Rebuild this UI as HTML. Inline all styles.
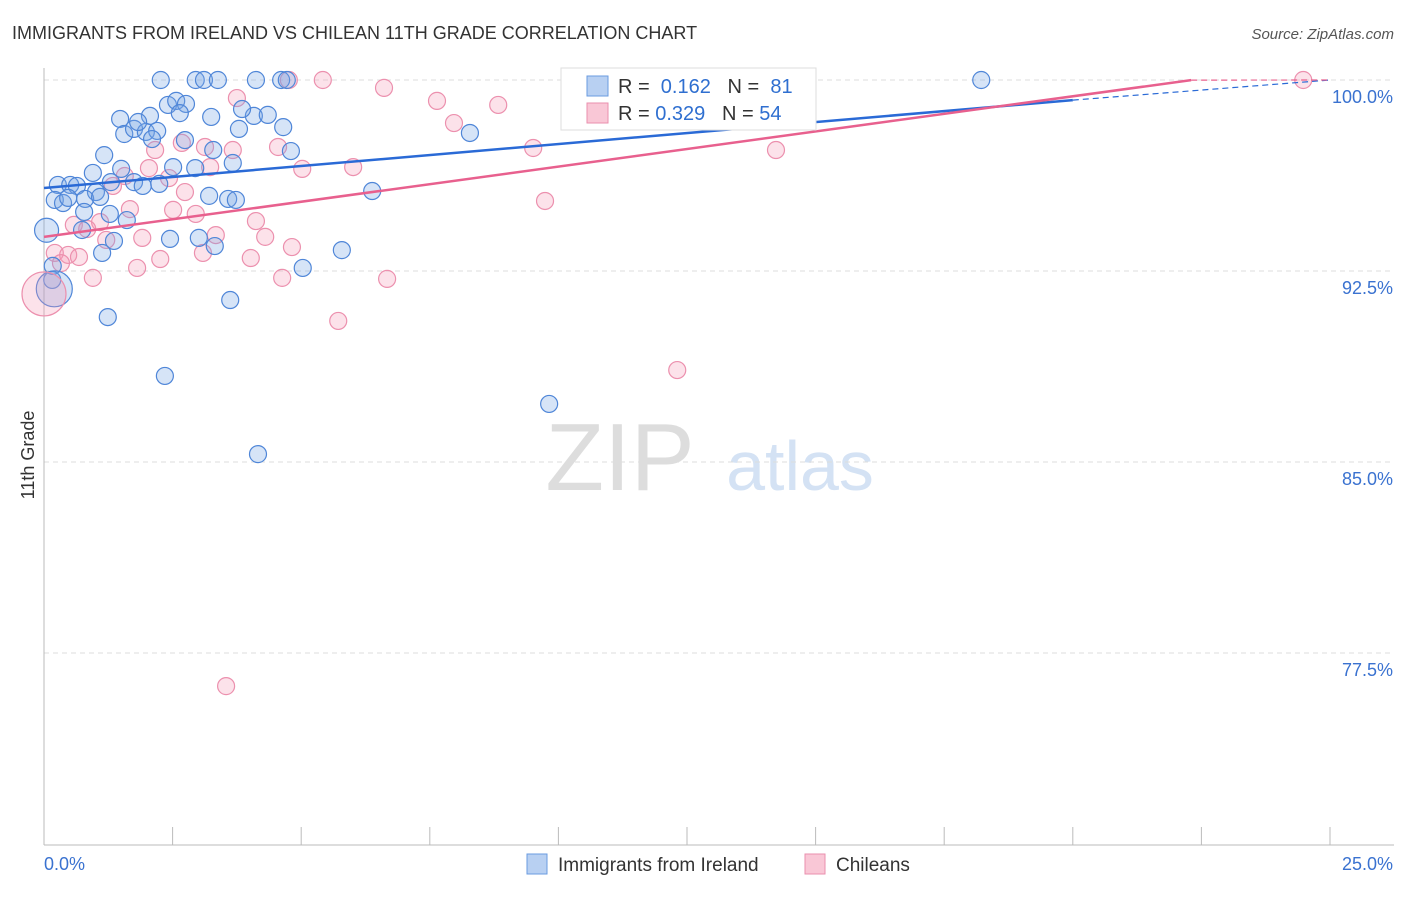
<!DOCTYPE html>
<html><head><meta charset="utf-8"><style>
body{margin:0;background:#fff;font-family:"Liberation Sans",sans-serif}
svg text{font-family:"Liberation Sans",sans-serif}
</style></head><body>
<svg id="c" width="1406" height="892" xmlns="http://www.w3.org/2000/svg">
<text x="12" y="39" font-size="18" fill="#333">IMMIGRANTS FROM IRELAND VS CHILEAN 11TH GRADE CORRELATION CHART</text>
<text x="1394" y="39" font-size="15" fill="#555" font-style="italic" text-anchor="end">Source: ZipAtlas.com</text>
<text x="34" y="455" font-size="18" fill="#333" transform="rotate(-90 34 455)" text-anchor="middle">11th Grade</text>
<text x="620" y="490" font-size="96" fill="#ddd" font-family="Liberation Serif" text-anchor="middle">ZIP</text>
<text x="800" y="490" font-size="70" fill="#d4e2f4" text-anchor="middle">atlas</text>
<g id="grid"></g><g id="pts"></g><g id="lines"></g>
<g>
<rect x="561" y="68" width="255" height="62" fill="#fff" stroke="#ddd"/>
<rect x="587" y="76" width="21" height="20" fill="#b8d0f2" stroke="#6a9be0"/>
<rect x="587" y="103" width="21" height="20" fill="#f9c7d6" stroke="#ea8fae"/>
<text x="618" y="93" font-size="20" fill="#333">R = <tspan fill="#2f6fd0">&#160;0.162</tspan>&#160;&#160;&#160;N = <tspan fill="#2f6fd0">&#160;81</tspan></text>
<text x="618" y="120" font-size="20" fill="#333">R = <tspan fill="#2f6fd0">0.329</tspan>&#160;&#160;&#160;N = <tspan fill="#2f6fd0">54</tspan></text>
</g>
<g>
<rect x="527" y="854" width="20" height="20" fill="#b8d0f2" stroke="#6a9be0"/>
<text x="558" y="871" font-size="19" fill="#333">Immigrants from Ireland</text>
<rect x="805" y="854" width="20" height="20" fill="#f9c7d6" stroke="#ea8fae"/>
<text x="836" y="871" font-size="19" fill="#333">Chileans</text>
</g>
</svg>
<script>
const yTicks=[100,92.5,85,77.5];
const yTickLabels=["100.0%","92.5%","85.0%","77.5%"];
const xEnds=["0.0%","25.0%"];
const bluePx=[[161,80],[196,80],[204,80],[218,80],[256,80],[281,80],[287,80],[981,80],[120,119],[150,116],[168,105],[176,101],[186,104],[211,117],[254,116],[268,115],[283,127],[124,134],[134,129],[146,132],[157,131],[138,122],[152,139],[180,113],[185,140],[239,129],[242,109],[470,133],[104,155],[121,169],[173,167],[195,168],[213,150],[233,163],[291,151],[93,173],[58,185],[70,185],[77,186],[96,192],[111,182],[134,182],[143,186],[159,184],[372,191],[55,200],[63,203],[68,198],[85,199],[100,197],[209,196],[228,199],[236,200],[84,212],[110,214],[127,220],[82,230],[114,241],[170,239],[199,238],[215,246],[102,253],[342,250],[53,266],[303,268],[230,300],[108,317],[165,376],[549,404],[258,454],[52,280]];
const pinkPx=[[323,80],[289,80],[1303,80],[720,80],[384,88],[237,98],[437,101],[498,105],[454,123],[182,143],[205,147],[233,150],[278,147],[533,148],[776,150],[155,150],[149,168],[210,167],[302,169],[353,167],[125,176],[113,186],[169,178],[185,192],[130,209],[173,210],[196,214],[256,221],[545,201],[100,222],[74,225],[87,229],[142,238],[106,240],[216,235],[265,237],[292,247],[203,253],[55,253],[68,255],[79,257],[160,259],[251,258],[61,263],[137,268],[93,278],[282,278],[387,279],[338,321],[677,370],[226,686]];
// convert estimated positions to data values (x %, y %)
const blueX=bluePx.map(p=>+((p[0]-44)/1286*25).toFixed(2)), blueY=bluePx.map(p=>+(100-(p[1]-80)/191*7.5).toFixed(2));
const pinkX=pinkPx.map(p=>+((p[0]-44)/1286*25).toFixed(2)), pinkY=pinkPx.map(p=>+(100-(p[1]-80)/191*7.5).toFixed(2));
const bigX=[0.05,0.2,0],bigY=[94.1,91.8,91.6],bigSer=["b","b","p"],bigR=[12,18,22];
const blueTrend=[95.76,0.1725], pinkTrend=[93.84,0.276];
const sx=v=>44+v/25*1286, sy=v=>80+(100-v)/7.5*191;
const NS="http://www.w3.org/2000/svg";
function mk(t,a,p){const e=document.createElementNS(NS,t);for(const k in a)e.setAttribute(k,a[k]);p.appendChild(e);return e;}
const g=document.getElementById('grid');
yTicks.forEach((v,i)=>{
 const l=mk('line',{x1:44,x2:1394,y1:sy(v),y2:sy(v),stroke:'#ddd','stroke-dasharray':'5,4'},g);
 
 
 const t=mk('text',{x:1393,y:sy(v)+23,'font-size':18,fill:'#3a72d0','text-anchor':'end'},g);t.textContent=yTickLabels[i];
 
 
});
mk('line',{x1:44,x2:44,y1:68,y2:845,stroke:'#bbb'},g);
mk('line',{x1:44,x2:1394,y1:845,y2:845,stroke:'#bbb'},g);
for(let i=1;i<=10;i++){const x=sx(i*2.5);const l=mk('line',{x1:x,x2:x,y1:827,y2:845,stroke:'#bbb'},g);
 
 }
const t0=mk('text',{x:44,y:870,'font-size':18,fill:'#3a72d0'},g);t0.textContent=xEnds[0];


const t1=mk('text',{x:1393,y:870,'font-size':18,fill:'#3a72d0','text-anchor':'end'},g);t1.textContent=xEnds[1];


const P=document.getElementById('pts');
function dot(x,y,r,s){const c=mk('circle',{cx:sx(x),cy:sy(y),r:r,fill:s=='b'?'rgba(120,165,230,0.3)':'rgba(245,150,180,0.28)',stroke:s=='b'?'#4f86d8':'#ec90ae','stroke-width':1.2},P);
 
 }
pinkX.forEach((x,i)=>dot(x,pinkY[i],8.5,'p'));
blueX.forEach((x,i)=>dot(x,blueY[i],8.5,'b'));
bigX.forEach((x,i)=>dot(x,bigY[i],bigR[i],bigSer[i]));
const L=document.getElementById('lines');
function trend(tr,col,xEndSolid,name){
 const y=v=>Math.min(100,tr[0]+tr[1]*v);
 const a=mk('line',{x1:sx(0),y1:sy(y(0)),x2:sx(xEndSolid),y2:sy(y(xEndSolid)),stroke:col,'stroke-width':2.5},L);
 
 
 const b=mk('line',{x1:sx(xEndSolid),y1:sy(y(xEndSolid)),x2:sx(25),y2:sy(tr[0]+tr[1]*25>100?100:y(25)),stroke:col,'stroke-width':1.2,'stroke-dasharray':'6,4'},L);
 
 
}
trend(blueTrend,'#2a6ad6',20,'ireland-trend-line');
trend(pinkTrend,'#e8608e',22.3,'chilean-trend-line');
</script>
</body></html>
